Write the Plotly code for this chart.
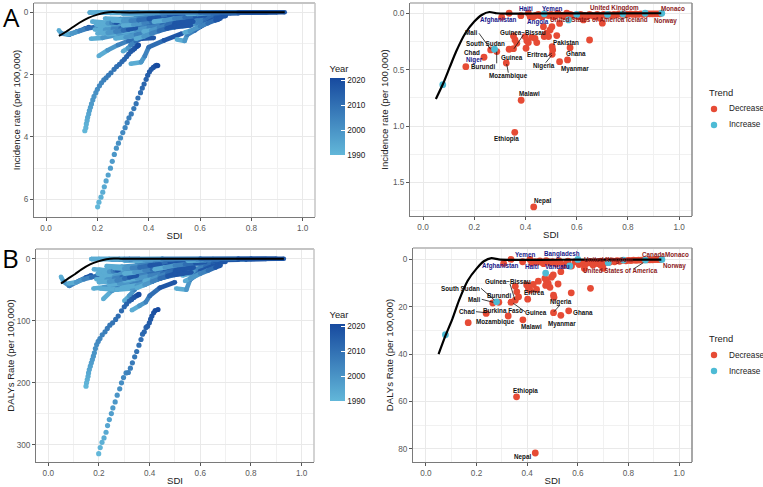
import plotly.graph_objects as go
from plotly.colors import sample_colorscale

W, H = 763, 487

# ---- year colour scale ----
YEAR_MIN, YEAR_MAX = 1990, 2021
YEAR_SCALE = [[0, "#62b7d9"], [1, "#174a9f"]]

# ---- SDI trajectories, 1990 to 2021, the two long country paths ----
YEARS_ALL = list(range(1990, 2022))
NEPAL_SDI_INC = [.201,.206,.214,.221,.227,.234,.242,.251,.258,.266,.274,.282,.290,.299,.308,.316,
                 .323,.332,.342,.351,.358,.368,.375,.382,.390,.396,.403,.410,.418,.426,.431,.435]
NEPAL_INC = [6.24,6.09,5.93,5.77,5.60,5.41,5.22,5.00,4.78,4.56,4.36,4.20,4.03,3.86,3.70,3.54,
             3.39,3.26,3.09,2.93,2.75,2.58,2.43,2.30,2.15,2.02,1.91,1.83,1.77,1.72,1.70,1.71]
ETHIOPIA_SDI_INC = [.151,.155,.157,.160,.162,.166,.169,.173,.177,.182,.187,.194,.200,.208,.216,.225,
                    .234,.243,.253,.265,.275,.286,.296,.305,.314,.322,.330,.338,.345,.353,.357,.360]
ETHIOPIA_INC = [3.80,3.70,3.58,3.47,3.37,3.26,3.15,3.05,2.94,2.81,2.70,2.58,2.47,2.36,2.26,2.17,
                2.10,2.02,1.94,1.83,1.74,1.67,1.58,1.51,1.42,1.34,1.26,1.21,1.16,1.10,1.07,1.05]
NEPAL_SDI_DALY = [.199,.205,.212,.220,.228,.234,.241,.249,.255,.264,.272,.282,.289,.297,.307,.316,
                  .324,.332,.341,.349,.358,.366,.372,.379,.386,.392,.399,.404,.409,.416,.422,.433]
NEPAL_DALY = [314.5,304.8,296.2,289.2,280,269.3,259.6,249.9,240.7,231,220.2,210,200.3,191.7,184.2,183.6,
              176.6,168,158.3,149.7,139.5,130.3,121.7,117.9,110.9,108.8,103.4,97.5,92.6,87.2,83.5,81.9]
ETHIOPIA_SDI_DALY = [.149,.151,.154,.157,.159,.162,.166,.170,.174,.178,.182,.186,.191,.197,.204,.213,
                     .224,.233,.243,.254,.266,.276,.289,.300,.309,.320,.329,.338,.346,.353,.355,.358]
ETHIOPIA_DALY = [205.7,200.3,194.9,189.6,184.2,178.8,173.4,168,162.6,157.2,151.9,144.9,138.4,133.5,128.7,122.8,
                 117.9,112.5,107.2,103.4,98,92.6,84,77.5,73.2,68.4,65.7,62.5,60.3,58.7,58.2,57.6]

# ---- remaining countries, sampled at six years as (sdi, rate) ----
YEARS_SAMPLED = [1990, 1996, 2002, 2008, 2014, 2021]
PATHS_INC = [
    [(.25,.02),(.40,.02),(.50,.01),(.65,.01),(.80,.005),(.90,0)],
    [(.30,.05),(.42,.04),(.55,.03),(.66,.02),(.78,.01),(.86,.005)],
    [(.35,.12),(.45,.10),(.55,.07),(.62,.05),(.70,.04),(.75,.03)],
    [(.40,.18),(.48,.14),(.55,.10),(.60,.08),(.66,.07),(.70,.06)],
    [(.45,.30),(.50,.25),(.56,.17),(.60,.14),(.65,.12),(.70,.09)],
    [(.50,.42),(.54,.38),(.58,.30),(.62,.22),(.66,.18),(.70,.12)],
    [(.53,.45),(.56,.42),(.59,.36),(.62,.30),(.65,.27),(.67,.24)],
    [(.205,1.40),(.24,1.22),(.28,1.05),(.32,.92),(.37,.85),(.42,.82)],
    [(.33,1.65),(.37,1.60),(.385,1.40),(.40,1.12),(.46,.90),(.53,.68)],
    [(.30,1.25),(.32,1.15),(.33,1.05),(.35,.93),(.37,.84),(.383,.771)],
    [(.175,.85),(.22,.82),(.28,.72),(.34,.62),(.40,.52),(.47,.42)],
    [(.05,.58),(.06,.68),(.09,.72),(.12,.62),(.15,.53),(.167,.473)],
    [(.08,.70),(.10,.68),(.13,.60),(.16,.52),(.20,.46),(.238,.39)],
    [(.51,.87),(.54,.92),(.55,.72),(.58,.58),(.60,.47),(.65,.24)],
    [(.54,.65),(.56,.60),(.60,.45),(.63,.35),(.66,.25),(.68,.20)],
    [(.20,.32),(.26,.38),(.32,.35),(.38,.30),(.44,.27),(.50,.22)],
    [(.195,.40),(.25,.46),(.31,.45),(.37,.40),(.43,.36),(.50,.30)],
    [(.22,.60),(.27,.62),(.33,.58),(.39,.50),(.45,.42),(.504,.364)],
    [(.29,.72),(.33,.70),(.38,.62),(.43,.52),(.48,.46),(.533,.429)],
    [(.30,.80),(.35,.75),(.39,.68),(.44,.58),(.50,.48),(.564,.414)],
    [(.27,.84),(.31,.80),(.35,.72),(.39,.62),(.43,.52),(.46,.42)],
    [(.24,.45),(.28,.43),(.33,.42),(.39,.36),(.45,.28),(.52,.20)],
    [(.18,.30),(.24,.34),(.30,.30),(.36,.24),(.42,.18),(.50,.12)],
    [(.23,.20),(.29,.22),(.35,.20),(.41,.16),(.46,.11),(.53,.09)],
    [(.32,.55),(.37,.50),(.42,.42),(.47,.33),(.52,.26),(.57,.19)],
    [(.24,.70),(.28,.68),(.33,.60),(.37,.50),(.42,.40),(.47,.30)],
    [(.25,.58),(.30,.55),(.35,.48),(.40,.40),(.46,.30),(.522,.198)],
    [(.30,.62),(.35,.57),(.40,.50),(.45,.42),(.50,.34),(.574,.305)],
    [(.21,.50),(.26,.50),(.30,.47),(.34,.42),(.39,.33),(.45,.22)],
    [(.24,.28),(.30,.25),(.36,.20),(.42,.14),(.48,.10),(.55,.07)],
    [(.22,.36),(.24,.35),(.255,.34),(.265,.33),(.272,.325),(.279,.319)],
    # lighter, mostly early stretches lying over the mass
    [(.19,.55),(.23,.56),(.26,.54),(.29,.52),(.31,.49),(.34,.45)],
    [(.20,.68),(.24,.66),(.27,.62),(.30,.58),(.32,.55),(.35,.50)],
    [(.30,.42),(.34,.40),(.38,.34),(.41,.30),(.44,.26),(.48,.21)],
    [(.26,.26),(.30,.28),(.33,.27),(.36,.25),(.40,.21),(.44,.16)],
    [(.38,.62),(.41,.58),(.44,.50),(.47,.42),(.50,.35),(.53,.28)],
    [(.35,.85),(.38,.78),(.41,.68),(.44,.60),(.47,.52),(.50,.44)],
    [(.42,.30),(.46,.26),(.50,.20),(.54,.16),(.58,.12),(.62,.09)],
    [(.17,.01),(.20,.01),(.24,.01),(.28,.01),(.32,.01),(.36,.01)],
    [(.34,.03),(.38,.03),(.42,.03),(.46,.02),(.50,.02),(.56,.02)],
    [(.55,.05),(.59,.05),(.62,.04),(.65,.03),(.68,.02),(.72,.02)],
    [(.17,.01),(.30,.01),(.45,.01),(.60,.005),(.75,.003),(.93,0)],
]
PATHS_DALY = [
    [(.25,1.5),(.40,1),(.50,.8),(.65,.5),(.80,.3),(.90,.1)],
    [(.30,3),(.42,2.5),(.55,2),(.66,1.5),(.78,1),(.86,.5)],
    [(.35,7),(.45,6),(.55,4),(.62,3),(.70,2),(.75,1.5)],
    [(.40,11),(.48,9),(.55,6),(.60,5),(.66,4),(.70,3)],
    [(.45,17),(.50,14),(.56,10),(.60,8),(.65,7),(.70,5)],
    [(.50,24),(.54,21),(.58,17),(.62,13),(.66,11),(.68,8)],
    [(.53,27),(.56,24),(.59,20),(.62,17),(.64,14),(.651,12.2)],
    [(.217,65),(.25,52),(.28,47),(.33,44),(.38,38),(.43,33)],
    [(.33,83),(.36,76),(.385,70),(.40,60),(.44,47),(.50,38)],
    [(.30,68),(.32,60),(.34,50),(.36,42),(.37,32),(.385,25.5)],
    [(.178,48),(.22,46),(.27,42),(.33,36),(.39,31),(.44,26)],
    [(.05,29),(.06,37),(.083,44),(.12,36),(.15,30),(.169,26.7)],
    [(.08,40),(.11,38),(.14,33),(.17,30),(.21,26),(.242,22.8)],
    [(.505,48),(.545,50),(.56,34),(.585,26),(.60,20),(.65,12)],
    [(.54,36),(.56,32),(.60,24),(.63,19),(.66,14),(.68,11)],
    [(.20,18),(.26,21),(.32,19),(.38,17),(.44,15),(.50,12)],
    [(.195,24),(.25,27),(.31,25),(.37,22),(.43,20),(.50,17)],
    [(.204,48),(.27,50),(.33,40),(.39,33),(.45,28),(.503,22.5)],
    [(.27,50),(.33,48),(.38,42),(.43,33),(.48,27),(.534,23.6)],
    [(.29,47),(.35,43),(.39,38),(.44,32),(.50,26),(.565,21.7)],
    [(.26,38),(.31,37),(.35,32),(.39,28),(.43,24),(.46,20)],
    [(.24,29),(.28,27),(.33,25),(.39,21),(.45,16),(.52,11)],
    [(.18,17),(.24,19),(.30,17),(.36,14),(.42,10),(.50,7)],
    [(.23,12),(.29,13),(.35,11),(.41,9),(.46,6),(.53,5)],
    [(.32,32),(.37,28),(.42,24),(.47,19),(.52,15),(.57,11)],
    [(.24,42),(.28,40),(.33,34),(.37,28),(.42,22),(.47,17)],
    [(.25,33),(.30,31),(.35,27),(.40,23),(.46,17),(.523,10.4)],
    [(.30,35),(.35,32),(.40,28),(.45,24),(.50,19),(.574,14.1)],
    [(.21,28),(.26,29),(.30,26),(.34,23),(.39,18),(.45,12)],
    [(.24,16),(.30,14),(.36,11),(.42,8),(.48,6),(.55,4)],
    [(.22,22),(.24,21),(.255,20),(.265,19),(.272,18.5),(.279,17.9)],
    # lighter, mostly early stretches lying over the mass
    [(.19,33),(.23,34),(.26,32),(.29,30),(.31,28),(.34,25)],
    [(.20,38),(.24,37),(.27,35),(.30,32),(.32,30),(.35,27)],
    [(.30,24),(.34,22),(.38,19),(.41,17),(.44,14),(.48,11)],
    [(.26,15),(.30,16),(.33,15),(.36,14),(.40,11),(.44,9)],
    [(.38,36),(.41,33),(.44,28),(.47,24),(.50,20),(.53,16)],
    [(.35,47),(.38,42),(.41,37),(.44,32),(.47,28),(.50,24)],
    [(.42,17),(.46,14),(.50,11),(.54,9),(.58,7),(.62,5)],
    [(.17,.5),(.20,.5),(.24,.5),(.28,.5),(.32,.5),(.36,.5)],
    [(.34,2),(.38,2),(.42,1.8),(.46,1.5),(.50,1.2),(.56,1)],
    [(.55,3),(.59,2.8),(.62,2.2),(.65,1.8),(.68,1.4),(.72,1)],
    [(.17,.5),(.30,.4),(.45,.3),(.60,.2),(.75,.1),(.93,0)],
]

# ---- 2021 values by country ----
SDI_2021 = [.432,.358,.383,.167,.238,.264,.279,.288,.325,.336,.353,.402,.504,.533,.564,.574,
            .504,.506,.650,.522,.353,.359,.366,.398,.405,.411,.424,.437,.444,.470,.503,.533,
            .476,.483,.496,.490,.473,.307,.336,.382,.411,.418,.431,.457,.483,.509,.525,.561,
            .626,.700,.691,.077,.473,.568,.720,.780,.867,.932,.600,
            .440,.450,.465,.475,.490,.500,.515,.530,.545,.555,.575,.590,.605,.615,.630,.640,
            .650,.660,.670,.680,.690,.705,.715,.725,.735,.745,.755,.765,.775,.790,.800,.810,
            .820,.830,.840,.850,.860,.875,.885,.895,.905,.915,.925]
INC_2021 = [1.717,1.055,.771,.473,.39,.325,.319,.34,.441,.319,.314,.31,.364,.429,.414,.305,
            .296,.325,.237,.198,.201,.237,.266,.207,.243,.26,.213,.222,.26,.119,.119,.09,
            .192,.177,.148,.207,.207,.035,0,.021,0,.03,.03,.021,.015,.03,0,0,
            .059,.088,.044,.633,.005,.059,.01,.005,0,0,.01,
            .02,.01,.03,.005,.02,.01,.025,.01,.02,.03,.01,.02,.03,.01,.02,.03,
            .01,.02,.03,.01,.02,.01,.02,.01,.02,.01,.015,.005,.01,.005,.01,.005,
            .01,.005,.01,.005,.01,.005,.005,.005,.005,.005,.005]
DALY_2021 = [81.7,58,25.5,26.7,22.8,18.4,17.9,18.1,23.9,18.1,17.2,16.8,22.5,23.6,21.7,14.1,
             15.1,16,12.2,10.4,11.3,13.7,15.8,10.8,12.3,13,10.6,12.7,9.2,8,6.6,5.2,
             9,10.1,7.5,11.8,11,1.7,0,1,0,1.5,1,1.2,1,1.5,.5,.8,
             3.8,3.8,2.5,31.8,5.8,2.8,1.4,.3,.3,0,0,
             1.2,.6,1.8,.5,1.5,1,2,1.2,2.5,1.6,2.8,1,2.2,1.4,2,1.5,
             1,2.4,1.2,1.8,.8,1.5,.6,1.2,.6,1,.5,.8,.4,.6,.4,.5,
             .3,.4,.3,.3,.2,.2,.2,.2,.1,.1,.1]
TREND_2021 = ["Decrease"] * 102
for _i in (6, 51, 52, 53, 54, 55, 56, 57, 58):
    TREND_2021[_i] = "Increase"

# ---- expected curve over SDI ----
CURVE_SDI = [.05,.078,.105,.13,.165,.20,.229,.259,.287,.326,.45,.60,.75,.93]
CURVE_INC = [.76,.625,.473,.335,.177,.074,.015,-.011,0,.003,.002,.001,.001,0]
CURVE_DALY = [40,32,25,17.5,9,3.9,.8,-.5,0,.2,.2,.1,.1,.1]

# ---- palette and type ----
FONT = "Liberation Sans"
RED, TEAL = "#e64b35", "#4dbbd5"
NAVY, WINE, INK = "#17178a", "#8b1a1a", "#111111"
TICK_SIZE, TITLE_SIZE, LABEL_SIZE = 8.2, 9.6, 6.3

# panel boxes in pixels: left, right, top, bottom, x range, y range, ticks
PANELS = {
    "inc_path": (34, 315, 3, 217, [-.047, 1.048], [6.567, -.298], [0, 2, 4, 6], ["0", "2", "4", "6"], 1),
    "inc_last": (410, 692, 3, 216, [-.051, 1.05], [1.797, -.091], [0, .5, 1, 1.5], ["0.0", "0.5", "1.0", "1.5"], .25),
    "daly_path": (36, 314, 249, 462, [-.0485, 1.049], [328, -15.7], [0, 100, 200, 300], ["0", "100", "200", "300"], 50),
    "daly_last": (413, 692, 248, 462, [-.051, 1.051], [85.5, -4.8], [0, 20, 40, 60, 80], ["0", "20", "40", "60", "80"], 10),
}
Y_TITLES = {"inc_path": "Incidence rate (per 100,000)", "inc_last": "Incidence rate (per 100,000)",
            "daly_path": "DALYs Rate (per 100,000)", "daly_last": "DALYs Rate (per 100,000)"}
Y_STANDOFF = {"inc_path": 1, "inc_last": 2, "daly_path": 0, "daly_last": 2}


def fx(px):
    return px / W


def fy(py):
    return 1 - py / H


fig = go.Figure()
layout = dict(
    width=W, height=H, margin=dict(l=0, r=0, t=0, b=0, autoexpand=False), autosize=False, showlegend=False,
    paper_bgcolor="white", plot_bgcolor="white", font=dict(family=FONT, color="#222222"),
)
shapes, annotations = [], []

for idx, (key, p) in enumerate(PANELS.items(), start=1):
    l, r, t, b, xr, yr, yticks, ylabels, yminor = p
    suffix = "" if idx == 1 else str(idx)
    axis_common = dict(
        showline=True, linecolor="#7a7a7a", linewidth=1, ticks="outside", ticklen=3, tickcolor="#555555",
        tickwidth=.8, tickfont=dict(size=TICK_SIZE, color="#5a5a5a", family=FONT), gridcolor="#e9e9e9", gridwidth=1,
        zeroline=False, automargin=False,
    )
    layout["xaxis" + suffix] = dict(
        axis_common, domain=[fx(l), fx(r)], range=xr, anchor="y" + suffix,
        tickvals=[0, .2, .4, .6, .8, 1], ticktext=["0.0", "0.2", "0.4", "0.6", "0.8", "1.0"],
        minor=dict(dtick=.1, tick0=0, gridcolor="#f1f1f1", gridwidth=.7, ticks=""),
        title=dict(text="SDI", font=dict(size=TITLE_SIZE, color="#222222"), standoff=0),
    )
    layout["yaxis" + suffix] = dict(
        axis_common, domain=[fy(b), fy(t)], range=yr, anchor="x" + suffix,
        tickvals=yticks, ticktext=ylabels,
        minor=dict(dtick=yminor, tick0=0, gridcolor="#f1f1f1", gridwidth=.7, ticks=""),
        title=dict(text=Y_TITLES[key], font=dict(size=TITLE_SIZE, color="#222222"), standoff=Y_STANDOFF[key]),
    )
    # lighter top edge, plus the right edge of each panel
    right_colour = "#c4c4c4" if "path" in key else "#8a8a8a"
    shapes.append(dict(type="line", xref="paper", yref="paper", x0=fx(l), x1=fx(r), y0=fy(t), y1=fy(t),
                       line=dict(color="#c4c4c4", width=2), layer="above"))
    shapes.append(dict(type="line", xref="paper", yref="paper", x0=fx(r), x1=fx(r), y0=fy(t), y1=fy(b),
                       line=dict(color=right_colour, width=1.5), layer="above"))


def year_colour(year):
    return sample_colorscale(YEAR_SCALE, (year - YEAR_MIN) / (YEAR_MAX - YEAR_MIN))[0]


def draw_paths(paths, suffix):
    # each country is a thick line shaded from its first year to its last
    for path in paths:
        for i in range(len(path) - 1):
            mid = (YEARS_SAMPLED[i] + YEARS_SAMPLED[i + 1]) / 2
            fig.add_trace(go.Scatter(
                x=[path[i][0], path[i + 1][0]], y=[path[i][1], path[i + 1][1]],
                mode="lines+markers", line=dict(color=year_colour(mid), width=4.6),
                marker=dict(color=year_colour(mid), size=4.6),
                xaxis="x" + suffix, yaxis="y" + suffix, showlegend=False, hoverinfo="skip",
            ))


def draw_dotted(x, y, suffix, colorbar=None):
    marker = dict(color=YEARS_ALL, colorscale=YEAR_SCALE, cmin=YEAR_MIN, cmax=YEAR_MAX, size=5.2, showscale=colorbar is not None)
    if colorbar:
        marker["colorbar"] = colorbar
    fig.add_trace(go.Scatter(x=x, y=y, mode="markers", marker=marker, xaxis="x" + suffix, yaxis="y" + suffix,
                             showlegend=False, hoverinfo="skip"))


def year_bar(top_px):
    # the title sits inside the bar's length, so it is extended upward by the title height
    return dict(
        x=fx(329.5), xanchor="left", y=fy(top_px - 16), yanchor="top", lenmode="pixels", len=93, thickness=15,
        thicknessmode="pixels", xpad=0, ypad=0, outlinewidth=0, borderwidth=0, ticks="inside", ticklen=4,
        tickcolor="white", tickwidth=.8, tickvals=[1990, 2000, 2010, 2020], ticklabelposition="outside",
        tickprefix="\u00a0\u00a0", tickfont=dict(size=TICK_SIZE, color="#222222", family=FONT),
        title=dict(text="Year", side="top", font=dict(size=9.4, color="#222222", family=FONT)),
    )


draw_paths(PATHS_INC, "")
draw_dotted(ETHIOPIA_SDI_INC, ETHIOPIA_INC, "")
draw_dotted(NEPAL_SDI_INC, NEPAL_INC, "", year_bar(78))
draw_paths(PATHS_DALY, "3")
draw_dotted(ETHIOPIA_SDI_DALY, ETHIOPIA_DALY, "3")
draw_dotted(NEPAL_SDI_DALY, NEPAL_DALY, "3", year_bar(324))

# expected curve on the two path panels
for suffix, curve in (("", CURVE_INC), ("3", CURVE_DALY)):
    fig.add_trace(go.Scatter(x=CURVE_SDI, y=curve, mode="lines", line=dict(color="black", width=2, shape="spline", smoothing=.6),
                             xaxis="x" + suffix, yaxis="y" + suffix, showlegend=False, hoverinfo="skip"))

# 2021 scatter panels
for suffix, values in (("2", INC_2021), ("4", DALY_2021)):
    for trend, colour in (("Decrease", RED), ("Increase", TEAL)):
        xs = [s for s, tr in zip(SDI_2021, TREND_2021) if tr == trend]
        ys = [v for v, tr in zip(values, TREND_2021) if tr == trend]
        fig.add_trace(go.Scatter(x=xs, y=ys, mode="markers", name=trend, marker=dict(color=colour, size=6.8),
                                 xaxis="x" + suffix, yaxis="y" + suffix, hoverinfo="skip"))
    curve = CURVE_INC if suffix == "2" else CURVE_DALY
    fig.add_trace(go.Scatter(x=CURVE_SDI, y=curve, mode="lines", line=dict(color="black", width=2.2, shape="spline", smoothing=.6),
                             xaxis="x" + suffix, yaxis="y" + suffix, showlegend=False, hoverinfo="skip"))


def text_at(text, px, py, size, colour, anchor="center", family=FONT):
    annotations.append(dict(text=text, x=fx(px), y=fy(py), xref="paper", yref="paper", xanchor=anchor, yanchor="middle",
                            showarrow=False, font=dict(size=size, color=colour, family=family)))


# trend keys beside each scatter panel
for title_y in (92, 338):
    text_at("Trend", 706.5, title_y, 9.4, "#222222", anchor="left")
    for row, (trend, colour) in enumerate((("Decrease", RED), ("Increase", TEAL))):
        row_y = title_y + 17 + row * 16
        shapes.append(dict(type="circle", xref="paper", yref="paper", x0=fx(710.8), x1=fx(717.2),
                           y0=fy(row_y + 3.2), y1=fy(row_y - 3.2), fillcolor=colour, line=dict(width=0)))
        text_at(trend, 726.7, row_y, TICK_SIZE, "#222222", anchor="left")

# country labels: text, centre x px, centre y px, colour
LABELS = [
    ("Haiti", 526.3, 8.7, NAVY), ("Yemen", 552, 8.7, NAVY), ("United Kingdom", 614, 8.3, WINE), ("Monaco", 673.3, 8.3, WINE),
    ("Afghanistan", 498, 20, NAVY), ("Angola", 538, 21.7, NAVY), ("United States of America", 587, 19.3, WINE),
    ("Iceland", 637.3, 20, WINE), ("Norway", 665.7, 20.7, WINE), ("Mali", 471, 32.3, INK), ("Guinea−Bissau", 523.3, 32.3, INK),
    ("South Sudan", 485.7, 43.3, INK), ("Pakistan", 565.7, 42.3, INK), ("Chad", 472.3, 52.5, INK), ("Niger", 474, 60.3, NAVY),
    ("Burundi", 482.7, 67, INK), ("Guinea", 511.7, 57, INK), ("Eritrea", 537.3, 54.7, INK), ("Ghana", 575.7, 54, INK),
    ("Nigeria", 544.3, 66, INK), ("Myanmar", 575, 68.7, INK), ("Mozambique", 508.3, 76.3, INK), ("Malawi", 529.7, 94, INK),
    ("Ethiopia", 506, 139, INK), ("Nepal", 542, 201, INK),
    ("Yemen", 525.3, 254.3, NAVY), ("Bangladesh", 562.3, 254.3, NAVY), ("Afghanistan", 500, 266, NAVY), ("Haiti", 531.7, 266, NAVY),
    ("Vanuatu", 557, 266.7, NAVY), ("United Kingdom", 608, 260, WINE), ("Canada", 653.3, 254.3, WINE), ("Monaco", 676.7, 254.3, WINE),
    ("Norway", 674.7, 265.7, WINE), ("United States of America", 620, 270.7, WINE), ("Guinea−Bissau", 508.3, 281.3, INK),
    ("South Sudan", 460, 288.3, INK), ("Burundi", 498.7, 295.3, INK), ("Eritrea", 534.3, 292.7, INK), ("Mali", 474.3, 299.3, INK),
    ("Chad", 466.7, 311.7, INK), ("Burkina Faso", 503.3, 310, INK), ("Guinea", 536, 312.7, INK), ("Nigeria", 561.3, 301.7, INK),
    ("Ghana", 583.3, 312.7, INK), ("Myanmar", 562.3, 324, INK), ("Mozambique", 496, 322.3, INK), ("Malawi", 531.7, 326, INK),
    ("Ethiopia", 525, 390.7, INK), ("Nepal", 522.7, 457.3, INK),
]
for text, px, py, colour in LABELS:
    text_at("<b>%s</b>" % text, px, py, LABEL_SIZE, colour)

# leader lines from labels towards their points, in pixels
LEADERS = [
    (479, 33.3, 490.7, 49.3), (523.3, 35, 514, 48.7), (496.7, 51.7, 496.7, 63.3), (506.7, 64, 508.3, 72.7),
    (546.7, 56.7, 551.7, 53.3), (545.7, 62.7, 552, 55), (620, 19.3, 626.7, 17.3),
    (510, 284, 515, 300), (481, 288.3, 494.3, 300), (481.7, 299.3, 493.3, 302.3), (476, 311.7, 486, 312.7),
    (525, 311.7, 513.3, 303.3), (560, 305, 554, 311.7), (633, 269.3, 643.3, 262.7),
]
for x0, y0, x1, y1 in LEADERS:
    shapes.append(dict(type="line", xref="paper", yref="paper", x0=fx(x0), y0=fy(y0), x1=fx(x1), y1=fy(y1),
                       line=dict(color="#111111", width=.8), layer="above"))

# panel letters
text_at("A", 11, 17, 26, "black", family="Open Sans")
text_at("B", 10, 258, 26, "black", family="Open Sans")

layout["shapes"] = shapes
layout["annotations"] = annotations
fig.update_layout(**layout)
fig.write_html("out.html")
